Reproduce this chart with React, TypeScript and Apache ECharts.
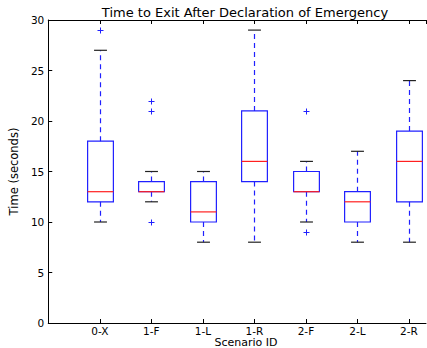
import React, { useEffect, useRef } from "react";
import * as echarts from "echarts";

const categories = ["0-X", "1-F", "1-L", "1-R", "2-F", "2-L", "2-R"];
// [whiskerLow, q1, median, q3, whiskerHigh]
const boxStats = [
  [10, 12, 13, 18, 27],
  [12, 13, 13, 14, 15],
  [8, 10, 11, 14, 15],
  [8, 14, 16, 21, 29],
  [10, 13, 13, 15, 16],
  [8, 10, 12, 13, 17],
  [8, 12, 16, 19, 24],
];
// [categoryIndex, value]
const outliers = [
  [0, 29],
  [1, 22],
  [1, 21],
  [1, 10],
  [4, 21],
  [4, 9],
];
const yTicks = { min: 0, max: 30, interval: 5 };

const FONT = "DejaVu Sans";

export default function App() {
  const ref = useRef<HTMLDivElement>(null);
  useEffect(() => {
    const chart = echarts.init(ref.current!, null, { renderer: "svg" });
    const boxData = boxStats.map((s, i) => [i + 1, ...s]);
    const outData = outliers.map(([i, v]) => [i + 1, v]);
    const xAxisBase = {
      type: "value",
      min: 0,
      max: 7.33,
      interval: 1,
      splitLine: { show: false },
      axisLine: { show: true, onZero: false, lineStyle: { color: "#000", width: 1 } },
      axisTick: { show: true, inside: true, length: 4, lineStyle: { color: "#000" } },
    };
    chart.setOption({
      animation: false,
      grid: { left: 45, top: 20, right: 1, bottom: 25, containLabel: false },
      xAxis: [
        {
          ...xAxisBase,
          position: "bottom",
          axisLabel: {
            show: true,
            showMaxLabel: false,
            showMinLabel: false,
            color: "#000",
            fontFamily: FONT,
            fontSize: 10.5,
            lineHeight: 10,
            margin: 3,
            formatter: (v: number) => categories[Math.round(v) - 1] ?? "",
          },
        },
        {
          ...xAxisBase,
          position: "top",
          axisLabel: { show: false },
        },
      ],
      yAxis: {
        type: "value",
        min: yTicks.min,
        max: yTicks.max,
        interval: yTicks.interval,
        splitLine: { show: false },
        axisLine: { show: true, lineStyle: { color: "#000", width: 1 } },
        axisTick: { show: true, inside: true, length: 4, lineStyle: { color: "#000" } },
        axisLabel: { color: "#000", fontFamily: FONT, fontSize: 10.5, margin: 4 },
        name: "Time (seconds)",
        nameLocation: "middle",
        nameGap: 25,
        nameTextStyle: { color: "#000", fontFamily: FONT, fontSize: 11.5 },
      },
      graphic: [
        {
          type: "text",
          x: 245,
          y: 12,
          style: {
            text: "Time to Exit After Declaration of Emergency",
            fontFamily: FONT,
            fontSize: 13,
            fill: "#000",
            textAlign: "center",
            textVerticalAlign: "middle",
          },
        },
        {
          type: "text",
          x: 246,
          y: 342,
          style: {
            text: "Scenario ID",
            fontFamily: FONT,
            fontSize: 11,
            lineHeight: 9,
            fill: "#000",
            textAlign: "center",
            textVerticalAlign: "middle",
          },
        },
      ],
      series: [
        {
          type: "custom",
          xAxisIndex: 0,
          data: boxData,
          clip: false,
          renderItem: (params: any, api: any) => {
            const x = api.value(0);
            const lo = api.coord([x, api.value(1)]);
            const q1 = api.coord([x, api.value(2)]);
            const med = api.coord([x, api.value(3)]);
            const q3 = api.coord([x, api.value(4)]);
            const hi = api.coord([x, api.value(5)]);
            const bw = api.size([0.5, 0])[0];
            const cw = api.size([0.25, 0])[0];
            const cx = Math.round(lo[0]) + 0.5;
            const blue = "#2020ff";
            const dash = [5, 4];
            return {
              type: "group",
              children: [
                {
                  type: "line",
                  shape: { x1: cx, y1: q3[1], x2: cx, y2: hi[1] },
                  style: { stroke: blue, lineWidth: 1.2, lineDash: dash },
                },
                {
                  type: "line",
                  shape: { x1: cx, y1: q1[1], x2: cx, y2: lo[1] },
                  style: { stroke: blue, lineWidth: 1.2, lineDash: dash },
                },
                {
                  type: "line",
                  shape: { x1: cx - cw / 2, y1: hi[1], x2: cx + cw / 2, y2: hi[1] },
                  style: { stroke: "#222", lineWidth: 1.2 },
                },
                {
                  type: "line",
                  shape: { x1: cx - cw / 2, y1: lo[1], x2: cx + cw / 2, y2: lo[1] },
                  style: { stroke: "#222", lineWidth: 1.2 },
                },
                {
                  type: "rect",
                  shape: { x: cx - bw / 2, y: q3[1], width: bw, height: q1[1] - q3[1] },
                  style: { stroke: blue, fill: "none", lineWidth: 1.2 },
                },
                {
                  type: "line",
                  shape: { x1: cx - bw / 2, y1: med[1], x2: cx + bw / 2, y2: med[1] },
                  style: { stroke: "#ff2020", lineWidth: 1.2 },
                },
              ],
            };
          },
        },
        {
          type: "custom",
          xAxisIndex: 0,
          data: outData,
          clip: false,
          renderItem: (params: any, api: any) => {
            const p = api.coord([api.value(0), api.value(1)]);
            const cx = Math.round(p[0]) + 0.5;
            const cy = Math.round(p[1]) + 0.5;
            const r = 3;
            return {
              type: "group",
              children: [
                {
                  type: "line",
                  shape: { x1: cx - r, y1: cy, x2: cx + r, y2: cy },
                  style: { stroke: "#2020ff", lineWidth: 1 },
                },
                {
                  type: "line",
                  shape: { x1: cx, y1: cy - r, x2: cx, y2: cy + r },
                  style: { stroke: "#2020ff", lineWidth: 1 },
                },
              ],
            };
          },
        },
      ],
    });
    return () => chart.dispose();
  }, []);
  return (
    <div
      ref={ref}
      style={{ position: "fixed", left: 0, top: 0, width: 427, height: 348, background: "#fff" }}
    />
  );
}
